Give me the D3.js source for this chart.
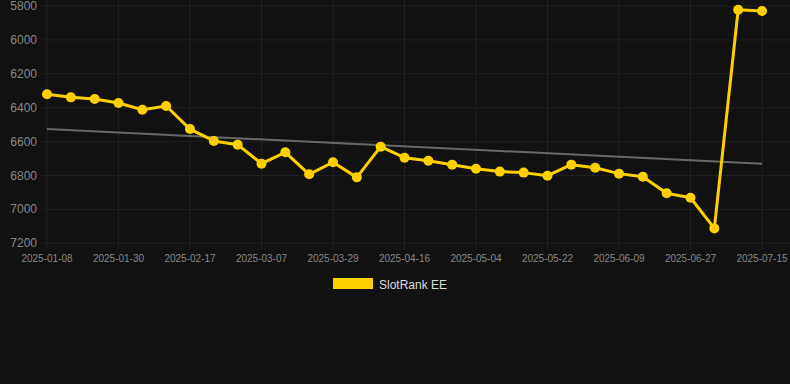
<!DOCTYPE html>
<html>
<head>
<meta charset="utf-8">
<script src="https://cdn.jsdelivr.net/npm/d3@7"></script>
<style>
  body { margin: 0; background: #111111; }
  svg { display: block; }
</style>
</head>
<body>
<div id="chart"></div>
<script>
// weekly snapshots, only every third date is labelled on the axis
var dates = ["2025-01-08","2025-01-15","2025-01-22","2025-01-30","2025-02-05","2025-02-11",
  "2025-02-17","2025-02-23","2025-03-01","2025-03-07","2025-03-14","2025-03-21",
  "2025-03-29","2025-04-04","2025-04-10","2025-04-16","2025-04-22","2025-04-28",
  "2025-05-04","2025-05-10","2025-05-16","2025-05-22","2025-05-28","2025-06-03",
  "2025-06-09","2025-06-15","2025-06-21","2025-06-27","2025-07-03","2025-07-09","2025-07-15"];
var ranks = [6321,6339,6349,6372,6412,6390,6526,6596,6618,6730,6663,6793,6722,6811,6630,
  6695,6713,6736,6760,6777,6783,6801,6736,6754,6789,6807,6905,6931,7112,5822,5830];
var trendEnds = [6526, 6730];
var yTicks = [5800,6000,6200,6400,6600,6800,7000,7200];
var seriesName = "SlotRank EE";

var w = 790, h = 384;
var plotLeft = 47, plotRight = 762, plotTop = 6, plotBottom = 243.3;

var svg = d3.select("#chart").append("svg")
  .attr("width", w)
  .attr("height", h);

var x = d3.scalePoint().domain(dates).range([plotLeft, plotRight]);
var y = d3.scaleLinear().domain([5800, 7200]).range([plotTop, plotBottom]);

var labelled = dates.filter(function(d, i) { return i % 3 == 0; });

// grid
svg.append("g").selectAll("line")
  .data(yTicks).enter().append("line")
  .attr("x1", 41).attr("x2", w)
  .attr("y1", function(d) { return y(d); })
  .attr("y2", function(d) { return y(d); })
  .attr("stroke", "#202020").attr("stroke-width", 1);

svg.append("g").selectAll("line")
  .data(labelled).enter().append("line")
  .attr("x1", function(d) { return x(d); })
  .attr("x2", function(d) { return x(d); })
  .attr("y1", 0).attr("y2", plotBottom + 6)
  .attr("stroke", "#202020").attr("stroke-width", 1);

// y labels
svg.append("g").selectAll("text")
  .data(yTicks).enter().append("text")
  .text(function(d) { return d; })
  .attr("x", 37)
  .attr("y", function(d) { return y(d) + 4; })
  .attr("text-anchor", "end")
  .attr("font-family", "Liberation Sans, Arial, sans-serif")
  .attr("font-size", "12px")
  .attr("fill", "#888");

// x labels
svg.append("g").selectAll("text")
  .data(labelled).enter().append("text")
  .text(function(d) { return d; })
  .attr("x", function(d) { return x(d); })
  .attr("y", 262)
  .attr("text-anchor", "middle")
  .attr("font-family", "Liberation Sans, Arial, sans-serif")
  .attr("font-size", "10px")
  .attr("fill", "#888");

// trend line
svg.append("line")
  .attr("x1", x(dates[0])).attr("y1", y(trendEnds[0]))
  .attr("x2", x(dates[dates.length - 1])).attr("y2", y(trendEnds[1]))
  .attr("stroke", "#6a6a6a").attr("stroke-width", 2);

// series
var line = d3.line()
  .x(function(d, i) { return x(dates[i]); })
  .y(function(d) { return y(d); });

svg.append("path")
  .datum(ranks)
  .attr("d", line)
  .attr("fill", "none")
  .attr("stroke", "#FFD000")
  .attr("stroke-width", 3)
  .attr("stroke-linejoin", "round");

svg.append("g").selectAll("circle")
  .data(ranks).enter().append("circle")
  .attr("cx", function(d, i) { return x(dates[i]); })
  .attr("cy", function(d) { return y(d); })
  .attr("r", 5)
  .attr("fill", "#FFD000");

// legend
svg.append("rect")
  .attr("x", 333).attr("y", 278)
  .attr("width", 40).attr("height", 11)
  .attr("fill", "#FFD000");

svg.append("text")
  .text(seriesName)
  .attr("x", 379).attr("y", 288.5)
  .attr("font-family", "Liberation Sans, Arial, sans-serif")
  .attr("font-size", "12px")
  .attr("fill", "#ddd");
</script>
</body>
</html>
